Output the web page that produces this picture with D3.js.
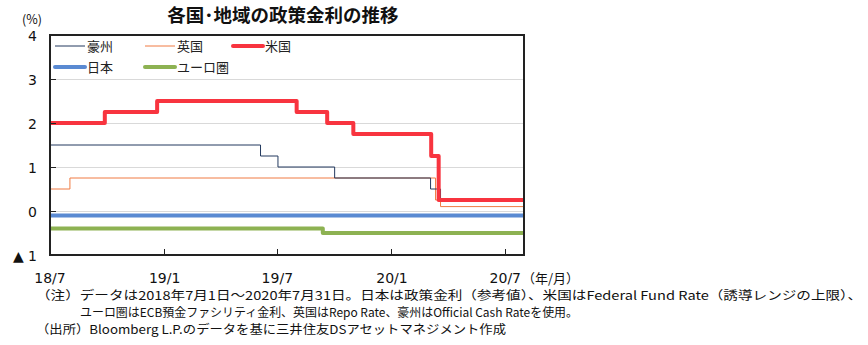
<!DOCTYPE html>
<html><head><meta charset="utf-8">
<script src="https://cdn.jsdelivr.net/npm/d3@7"></script>
<style>
html,body{margin:0;padding:0;background:#fff;}
svg{display:block;font-family:"Noto Sans CJK JP","Noto Sans",sans-serif;}
</style></head>
<body><svg id="c" width="868" height="345"></svg>
<script>
const title = "各国･地域の政策金利の推移";
const yTicks = [4, 3, 2, 1, 0, -1];
const yTickLabels = ["4", "3", "2", "1", "0", "▲ 1"];
const xTicks = ["2018-07-01", "2019-01-01", "2019-07-01", "2020-01-01", "2020-07-01"];
const xTickLabels = ["18/7", "19/1", "19/7", "20/1", "20/7"];
const startDate = "2018-07-01";
const endDate = "2020-07-31";

// step series: [date of change, rate]
const australia = [["2018-07-01",1.50],["2019-06-04",1.25],["2019-07-02",1.00],["2019-10-01",0.75],["2020-03-03",0.50],["2020-03-19",0.25]];
const uk = [["2018-07-01",0.50],["2018-08-02",0.75],["2020-03-11",0.25],["2020-03-19",0.10]];
const us = [["2018-07-01",2.00],["2018-09-27",2.25],["2018-12-20",2.50],["2019-08-01",2.25],["2019-09-19",2.00],["2019-10-31",1.75],["2020-03-04",1.25],["2020-03-16",0.25]];
const japan = [["2018-07-01",-0.10]];
const euro = [["2018-07-01",-0.40],["2019-09-12",-0.50]];

const seriesNames = ["豪州","英国","米国","日本","ユーロ圏"];
const notes = [
  "（注）データは2018年7月1日～2020年7月31日。日本は政策金利（参考値）、米国はFederal Fund Rate（誘導レンジの上限）、",
  "ユーロ圏はECB預金ファシリティ金利、英国はRepo Rate、豪州はOfficial Cash Rateを使用。",
  "（出所）Bloomberg L.P.のデータを基に三井住友DSアセットマネジメント作成"
];

const parse = d3.timeParse("%Y-%m-%d");
const svg = d3.select("#c");
const L = 50, R = 524, T = 35, B = 255;
const x = d3.scaleTime().domain([parse(startDate), parse(endDate)]).range([L, R]);
const y = d3.scaleLinear().domain([-1, 4]).range([B, T]);

// gridlines
svg.append("g").selectAll("line").data(yTicks.filter(v => v > -1 && v < 4)).join("line")
  .attr("x1", L).attr("x2", R).attr("y1", d => y(d)).attr("y2", d => y(d))
  .attr("stroke", "#d9d9d9").attr("stroke-width", 1).attr("shape-rendering","crispEdges");

const styles = {
  "豪州": {data: australia, color: "#23395f", w: 1},
  "英国": {data: uk, color: "#f07b42", w: 1},
  "米国": {data: us, color: "#f8343f", w: 4},
  "日本": {data: japan, color: "#5a8ad2", w: 4},
  "ユーロ圏": {data: euro, color: "#8db252", w: 4}
};

const line = d3.line().x(d => x(d[0])).y(d => y(d[1])).curve(d3.curveStepAfter);
const drawOrder = ["日本","ユーロ圏","英国","豪州","米国"];
drawOrder.forEach(name => {
  const s = styles[name];
  const pts = s.data.map(d => [parse(d[0]), d[1]]);
  pts.push([parse(endDate), s.data[s.data.length-1][1]]);
  svg.append("path").datum(pts).attr("d", line).attr("fill","none")
    .attr("stroke", s.color).attr("stroke-width", s.w).attr("stroke-linejoin","round");
});

// frame
svg.append("rect").attr("x", L).attr("y", T).attr("width", R-L).attr("height", B-T)
  .attr("fill","none").attr("stroke","#222").attr("stroke-width",1.2).attr("shape-rendering","crispEdges");

// y ticks (inward)
svg.append("g").selectAll("line").data(yTicks).join("line")
  .attr("x1", L).attr("x2", L+6).attr("y1", d => y(d)).attr("y2", d => y(d))
  .attr("stroke","#222").attr("shape-rendering","crispEdges");
svg.append("g").selectAll("text").data(yTicks).join("text")
  .attr("x", 37).attr("y", d => y(d) + 1).attr("dy","0.36em").attr("text-anchor","end")
  .attr("font-size", 14).attr("font-family","'DejaVu Sans',sans-serif").attr("fill","#111")
  .text((d,i) => yTickLabels[i]);

// x ticks (inward)
svg.append("g").selectAll("line").data(xTicks).join("line")
  .attr("x1", d => x(parse(d))).attr("x2", d => x(parse(d))).attr("y1", B).attr("y2", B-6)
  .attr("stroke","#222").attr("shape-rendering","crispEdges");
svg.append("g").selectAll("text").data(xTicks).join("text")
  .attr("x", d => x(parse(d))).attr("y", 283).attr("text-anchor","middle")
  .attr("font-size", 14).attr("font-family","'DejaVu Sans',sans-serif").attr("fill","#111")
  .text((d,i) => xTickLabels[i]);
svg.append("text").attr("x", 522).attr("y", 283).attr("font-size", 13).attr("fill","#111").text("（年/月）");

// unit
svg.append("text").attr("x", 22).attr("y", 24).attr("font-size", 12.5).attr("fill","#111").text("(%)");

// title
svg.append("text").attr("x", 283).attr("y", 22).attr("text-anchor","middle")
  .attr("font-size", 18.5).attr("font-weight","bold").attr("fill","#111").text(title);

// legend
const legPos = [[55,46],[145,46],[233,46],[55,67],[145,67]];
seriesNames.forEach((name, i) => {
  const s = styles[name];
  const [lx, ly] = legPos[i];
  svg.append("line").attr("x1", lx).attr("x2", lx+30).attr("y1", ly).attr("y2", ly)
    .attr("stroke", s.color).attr("stroke-width", s.w).attr("stroke-linecap", s.w > 1 ? "round" : "butt");
  svg.append("text").attr("x", lx+32).attr("y", ly).attr("dy","0.36em")
    .attr("font-size", 13).attr("fill","#222").text(name);
});

// notes
const notePos = [[36,300],[80,317],[36,334]];
const targetW = [826, 498, 470];
notes.forEach((t, i) => {
  svg.append("text").attr("x", notePos[i][0]).attr("y", notePos[i][1])
    .attr("font-size", 12).attr("fill","#111")
    .attr("textLength", targetW[i]).attr("lengthAdjust","spacingAndGlyphs")
    .text(t);
});
</script></body></html>
